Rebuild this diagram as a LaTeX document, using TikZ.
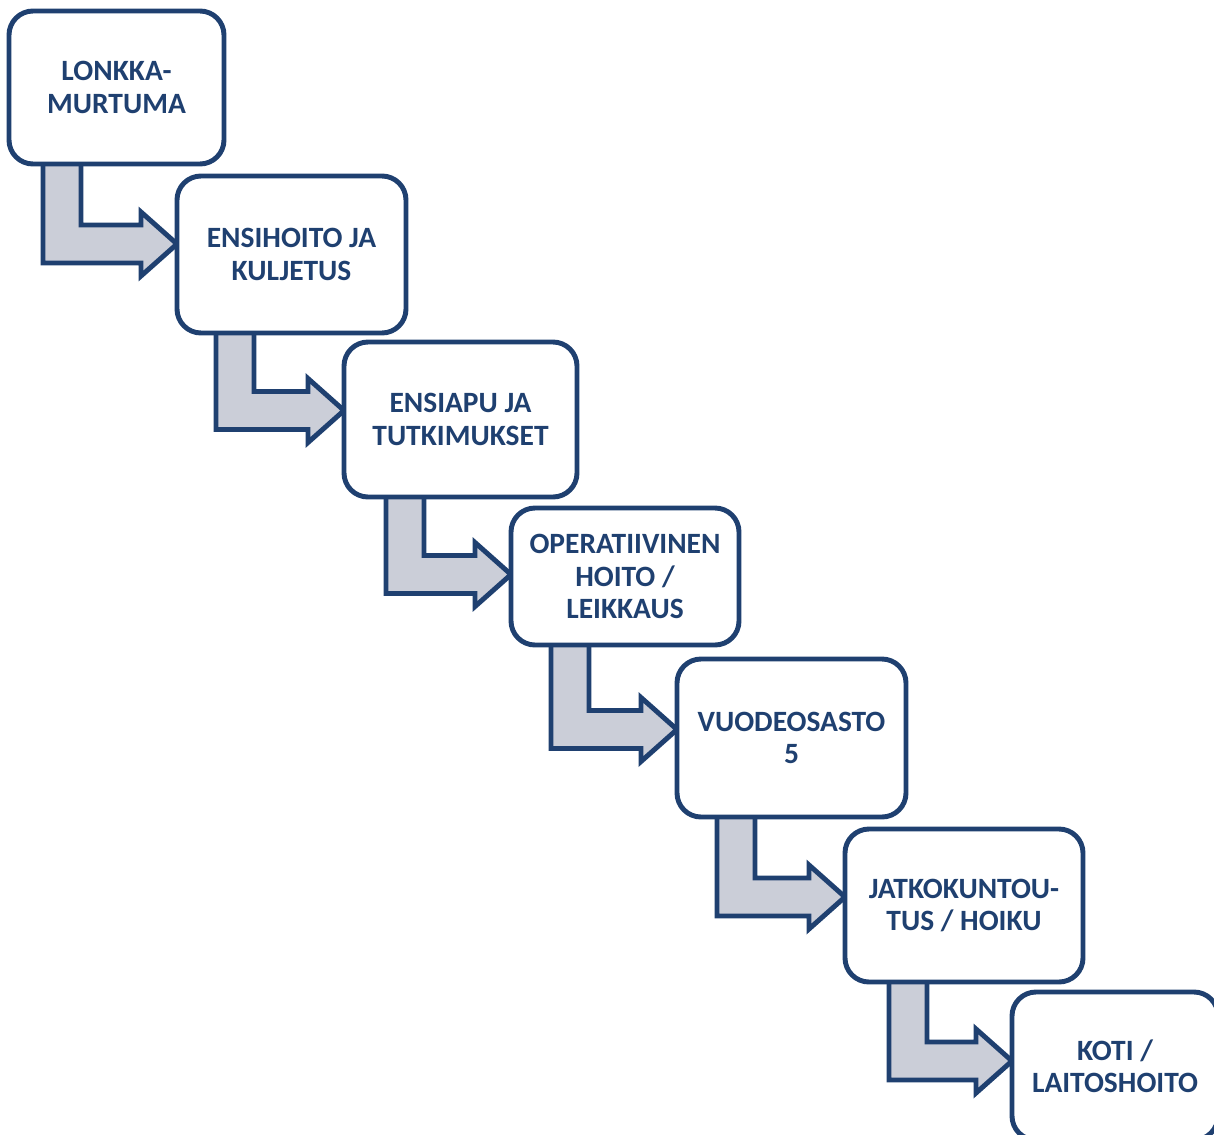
\documentclass[tikz,border=0pt]{standalone}
\usepackage{fontspec}
\setmainfont{Carlito}
\usetikzlibrary{calc,backgrounds}
\definecolor{dblue}{HTML}{1F4070}
\definecolor{agray}{HTML}{CBCED8}
\tikzset{
  stepbox/.style={draw=dblue, line width=3.7pt, fill=white, rounded corners=18pt,
    outer sep=0pt, inner sep=0pt, align=center, text=dblue,
    font=\fontsize{22.1pt}{24.3pt}\selectfont\bfseries},
  bentarrow/.style={draw=dblue, fill=agray, line width=3.7pt}
}
% #1 source box, #2 target box, #3 shaft offset from source west, #4 tip offset from target centre
\newcommand\flowarrow[4]{%
  \coordinate (s) at ($(#1.south west)+(#3,0)$);
  \coordinate (t) at ($(#2.west)+(0,#4)$);
  \draw[bentarrow] (s) -- ($(s |- t)+(0,19)$) -- ($(t)+(-36,19)$) -- ($(t)+(-36,32)$)
    -- (t) -- ($(t)+(-36,-32)$) -- ($(t)+(-36,-19)$) -- ($(s |- t)+(38,-19)$) -- ($(s)+(38,0)$);
}
\begin{document}
\begin{tikzpicture}[x=0.75pt, y=-0.75pt]
\useasboundingbox (0,0) rectangle (1214,1135);
\node[stepbox, minimum width={215*0.75pt}, minimum height={153*0.75pt}] (b1) at (116.5,87.5) {LONKKA-\\MURTUMA};
\node[stepbox, minimum width={229*0.75pt}, minimum height={157*0.75pt}] (b2) at (291.5,254.5) {ENSIHOITO JA\\KULJETUS};
\node[stepbox, minimum width={233*0.75pt}, minimum height={155*0.75pt}] (b3) at (460.5,419.5) {ENSIAPU JA\\TUTKIMUKSET};
\node[stepbox, minimum width={228*0.75pt}, minimum height={137*0.75pt}] (b4) at (625,576.5) {OPERATIIVINEN\\HOITO /\\LEIKKAUS};
\node[stepbox, minimum width={229*0.75pt}, minimum height={158*0.75pt}] (b5) at (791.5,738) {VUODEOSASTO\\5};
\node[stepbox, minimum width={238*0.75pt}, minimum height={153*0.75pt}] (b6) at (964,905.5) {JATKOKUNTOU-\\TUS / HOIKU};
\node[stepbox, minimum width={206*0.75pt}, minimum height={148*0.75pt}] (b7) at (1115,1066) {KOTI /\\LAITOSHOITO};
\begin{pgfonlayer}{background}
\flowarrow{b1}{b2}{34}{-10.5}
\flowarrow{b2}{b3}{39}{-9}
\flowarrow{b3}{b4}{42}{-2}
\flowarrow{b4}{b5}{40}{-8.5}
\flowarrow{b5}{b6}{40}{-8.5}
\flowarrow{b6}{b7}{44}{-5}
\end{pgfonlayer}
\end{tikzpicture}
\end{document}
